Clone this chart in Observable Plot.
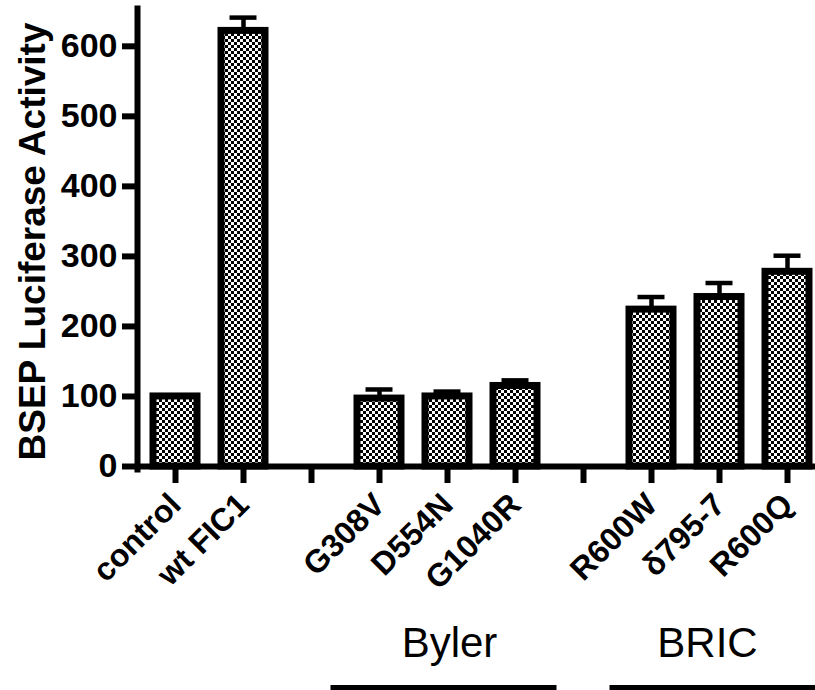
<!DOCTYPE html>
<html><head><meta charset="utf-8">
<script src="https://cdn.jsdelivr.net/npm/d3@7"></script>
<script src="https://cdn.jsdelivr.net/npm/@observablehq/plot@0.6"></script>
<style>html,body{margin:0;padding:0;overflow:hidden;background:#fff}</style>
</head><body><div id="chart"></div>
<script>
// x categories (two empty slots separate the groups)
const categories = ["control", "wt FIC1", "gap1", "G308V", "D554N", "G1040R", "gap2", "R600W", "δ795-7", "R600Q"];
const tickLabels = ["control", "wt FIC1", "", "G308V", "D554N", "G1040R", "", "R600W", "δ795-7", "R600Q"];
// bar series
const names  = ["control", "wt FIC1", "G308V", "D554N", "G1040R", "R600W", "δ795-7", "R600Q"];
const means  = [100, 622, 97, 100, 115, 224, 242, 278];
const errors = [0, 19, 13, 7, 8, 18, 20, 23];
const yTicks = [0, 100, 200, 300, 400, 500, 600];
const yLabel = "BSEP Luciferase Activity";
// groups
const groupNames  = ["Byler", "BRIC"];
const groupCenter = ["D554N", "δ795-7"];
const groupFrom   = ["G308V", "R600W"];
const groupTo     = ["G1040R", "R600Q"];

const data = names.map((n, i) => ({name: n, mean: means[i], err: errors[i]}));
const withErr = data.filter(d => d.err > 0);
const groups = groupNames.map((g, i) => ({g, at: groupCenter[i], from: groupFrom[i], to: groupTo[i]}));

const font = "'Liberation Sans', Arial, Helvetica, sans-serif";

const svg = Plot.plot({
  width: 815, height: 690,
  marginTop: 8, marginBottom: 224, marginLeft: 137, marginRight: 0,
  style: {fontFamily: font, color: "black", background: "white"},
  x: {domain: categories, range: [138, 823], paddingInner: 0.355, paddingOuter: 0.1775, axis: null},
  y: {domain: [0, 654], axis: null},
  marks: [
    Plot.barY(data, {x: "name", y: "mean", fill: "url(#checker)", stroke: "black", strokeWidth: 7}),
    Plot.ruleX(withErr, {x: "name", y1: "mean", y2: d => d.mean + d.err, stroke: "black", strokeWidth: 4.5}),
    Plot.tickY(withErr, {x: "name", y: d => d.mean + d.err, stroke: "black", strokeWidth: 4.5, insetLeft: 8.5, insetRight: 8.5}),
    Plot.ruleY([0], {stroke: "black", strokeWidth: 6}),
    Plot.frame({anchor: "left", stroke: "black", strokeWidth: 6, insetBottom: -3}),
    Plot.axisY({ticks: yTicks, tickSize: 15, tickPadding: 5, strokeWidth: 6, fontSize: 34, fontWeight: "bold", label: null}),
    Plot.axisX({tickSize: 17, tickPadding: 16, strokeWidth: 6, tickRotate: -45, fontSize: 32, fontWeight: "bold",
      tickFormat: d => tickLabels[categories.indexOf(d)], label: null}),
    Plot.text([yLabel], {frameAnchor: "left", textAnchor: "middle", rotate: -90, dx: -104, dy: 4, fontSize: 37, fontWeight: "bold", text: d => d}),
    Plot.text(groups.slice(0, 1), {x: "at", frameAnchor: "bottom", dy: 190, dx: 2, text: "g", fontSize: 42}),
    Plot.text(groups.slice(1, 2), {x: "at", frameAnchor: "bottom", dy: 190, dx: -12, text: "g", fontSize: 42}),
    Plot.ruleY(groups.slice(0, 1), {y: () => 0, x1: "from", x2: "to", dy: 221.5, strokeWidth: 6, insetLeft: -26.5, insetRight: -19.5}),
    Plot.ruleY(groups.slice(1, 2), {y: () => 0, x1: "from", x2: "to", dy: 221.5, strokeWidth: 6, insetLeft: -19.5, insetRight: -20})
  ]
});

const defs = d3.select(svg).insert("defs", ":first-child");
const pat = defs.append("pattern").attr("id", "checker").attr("patternUnits", "userSpaceOnUse").attr("width", 6).attr("height", 6);
pat.append("rect").attr("width", 6).attr("height", 6).attr("fill", "white");
pat.append("rect").attr("width", 3).attr("height", 3).attr("fill", "black");
pat.append("rect").attr("x", 3).attr("y", 3).attr("width", 3).attr("height", 3).attr("fill", "black");

document.getElementById("chart").appendChild(svg);
</script>
</body></html>
